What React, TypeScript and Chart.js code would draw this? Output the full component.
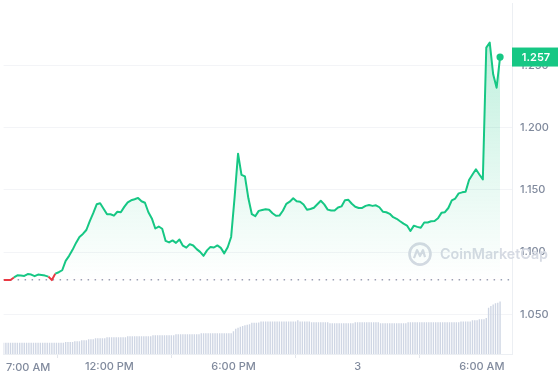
import React, { useEffect, useRef } from "react";
import { Chart, registerables } from "chart.js";

Chart.register(...registerables);

// ---- data -------------------------------------------------------------
const START_HOUR = 6.8833; // first sample, 6:53 AM (hours since midnight of day 2)
const PRICE_STEP_H = 1 / 6; // 10 minutes
const VOLUME_STEP_H = 1 / 9; // ~6.7 minutes
const X_MAX_HOUR = 31.46;
const BASE_PRICE = 1.0777;
const LAST_PRICE_LABEL = "1.257";

const priceValues = [
  1.0776, 1.0776, 1.0776, 1.0796, 1.0813, 1.0811, 1.0808, 1.0823, 1.0819, 1.0806,
  1.0819, 1.0815, 1.0811, 1.0803, 1.0775, 1.0827, 1.0838, 1.0854, 1.093, 1.097,
  1.1018, 1.1074, 1.1122, 1.1146, 1.1178, 1.125, 1.1313, 1.1385, 1.1393, 1.1349,
  1.1305, 1.1305, 1.1293, 1.1325, 1.1321, 1.1364, 1.1401, 1.1417, 1.1425, 1.1436,
  1.1409, 1.1397, 1.1321, 1.1271, 1.119, 1.1206, 1.1188, 1.109, 1.1078, 1.1094,
  1.1074, 1.1102, 1.1052, 1.1036, 1.1064, 1.1053, 1.1024, 1.1002, 1.097, 1.1014,
  1.1042, 1.1037, 1.1054, 1.1034, 1.099, 1.1039, 1.1122, 1.1441, 1.1792, 1.1621,
  1.1609, 1.1433, 1.1305, 1.1289, 1.1332, 1.1339, 1.1345, 1.1341, 1.1313, 1.1293,
  1.1294, 1.1333, 1.1388, 1.1406, 1.1433, 1.1409, 1.1405, 1.1383, 1.1341, 1.1347,
  1.1357, 1.1385, 1.1413, 1.1384, 1.1342, 1.1335, 1.1335, 1.1359, 1.1368, 1.1417,
  1.1421, 1.1389, 1.1365, 1.1355, 1.1356, 1.1372, 1.1379, 1.1372, 1.1377, 1.1361,
  1.1325, 1.1321, 1.1308, 1.1281, 1.1268, 1.1248, 1.1229, 1.1214, 1.117, 1.1213,
  1.1203, 1.1196, 1.1238, 1.1238, 1.1248, 1.125, 1.1272, 1.1316, 1.1321, 1.1355,
  1.1417, 1.1431, 1.1473, 1.1481, 1.1485, 1.1581, 1.1625, 1.1667, 1.1625, 1.1585,
  1.2646, 1.2686, 1.2431, 1.2323, 1.257,
];

// 24h volume (millions, arbitrary scale)
const volumeValues = [
  3.2, 3.2, 3.2, 3.2, 3.2, 3.2, 3.2, 3.2, 3.2, 3.2,
  3.2, 3.2, 3.2, 3.2, 3.2, 3.2, 3.2, 3.2, 3.2, 3.2,
  3.2, 3.2, 3.2, 3.2, 3.2, 3.2, 3.2, 3.4, 3.4, 3.4,
  3.4, 3.67, 3.67, 3.67, 3.95, 3.95, 3.95, 4.24, 4.24, 4.24,
  4.52, 4.52, 4.52, 4.52, 4.52, 4.8, 4.8, 4.8, 4.8, 4.8,
  4.8, 4.8, 4.8, 4.8, 5.09, 5.09, 5.09, 5.09, 5.09, 5.09,
  5.09, 5.09, 5.09, 5.09, 5.09, 5.37, 5.37, 5.37, 5.37, 5.37,
  5.37, 5.37, 5.37, 5.37, 5.37, 5.65, 5.65, 5.65, 5.65, 5.65,
  5.65, 5.65, 5.65, 5.65, 5.65, 5.65, 5.93, 5.93, 5.93, 5.93,
  5.93, 5.93, 5.93, 5.93, 5.93, 5.93, 5.93, 5.93, 5.93, 5.93,
  6.5, 7.2, 7.5, 7.8, 8.0, 8.2, 8.35, 8.5, 8.95, 8.95,
  8.95, 9.0, 9.3, 9.3, 9.3, 9.3, 9.3, 9.3, 9.3, 9.3,
  9.3, 9.3, 9.3, 9.3, 9.3, 9.3, 9.3, 9.3, 9.6, 9.3,
  9.3, 9.3, 9.3, 9.3, 9.04, 9.04, 9.04, 9.04, 9.04, 9.04,
  9.04, 9.04, 8.76, 8.76, 8.76, 8.76, 8.76, 8.76, 8.76, 8.76,
  8.76, 8.76, 8.76, 9.04, 9.04, 9.04, 9.04, 9.04, 9.04, 9.04,
  9.04, 9.04, 9.04, 9.04, 8.76, 8.76, 8.76, 8.76, 8.76, 8.76,
  8.76, 8.76, 8.76, 8.76, 8.76, 8.76, 9.04, 9.04, 9.04, 9.04,
  9.04, 9.04, 9.04, 9.04, 9.04, 9.04, 9.04, 9.04, 9.04, 9.04,
  9.04, 9.04, 9.04, 9.04, 9.04, 9.04, 9.04, 9.04, 9.04, 9.3,
  9.3, 9.3, 9.3, 9.3, 9.6, 9.6, 9.6, 9.9, 9.9, 9.9,
  10.3, 13.2, 13.7, 14.1, 14.5, 14.65, 15.0,
];
const VOLUME_AXIS_MAX = 100;

const xTickHours = [7, 12, 18, 24, 30];
const xTickLabels = ["7:00 AM", "12:00 PM", "6:00 PM", "3", "6:00 AM"];
const yTickValues = [1.05, 1.1, 1.15, 1.2, 1.25];
const Y_MIN = 1.018;
const Y_MAX = 1.3;

const GREEN = "#16c784";
const RED = "#ea3943";
const AXIS_TEXT = "#808a9d";
const FONT = "Inter, 'DejaVu Sans', sans-serif";

const overlayPlugin = {
  id: "overlay",
  beforeDatasetsDraw(chart: any) {
    const { ctx, chartArea, scales } = chart;
    ctx.save();
    // watermark
    const cy = scales.y.getPixelForValue(1.1);
    const cx = chartArea.right - 92;
    ctx.strokeStyle = "#d6dae3";
    ctx.lineWidth = 2.6;
    ctx.beginPath();
    ctx.arc(cx, cy + 2, 10.5, 0, Math.PI * 2);
    ctx.stroke();
    ctx.lineWidth = 2.2;
    ctx.lineJoin = "round";
    ctx.beginPath();
    ctx.moveTo(cx - 6, cy + 6);
    ctx.lineTo(cx - 3, cy - 2);
    ctx.lineTo(cx, cy + 4);
    ctx.lineTo(cx + 3, cy - 2);
    ctx.lineTo(cx + 5, cy + 5);
    ctx.stroke();
    const text = "CoinMarketCap";
    ctx.font = `600 20px ${FONT}`;
    const w = ctx.measureText(text).width;
    const size = (20 * 108) / w;
    ctx.font = `600 ${size.toFixed(2)}px ${FONT}`;
    ctx.fillStyle = "#d6dae3";
    ctx.textAlign = "left";
    ctx.textBaseline = "middle";
    ctx.fillText(text, cx + 20, cy + 3);
    // baseline (open price) dotted line
    const yb = scales.y.getPixelForValue(BASE_PRICE);
    ctx.setLineDash([1.5, 5.5]);
    ctx.strokeStyle = "#9aa2b6";
    ctx.lineWidth = 1.4;
    ctx.beginPath();
    ctx.moveTo(chartArea.left, yb);
    ctx.lineTo(chartArea.right, yb);
    ctx.stroke();
    ctx.restore();
  },
  afterDraw(chart: any) {
    const { ctx, chartArea, scales } = chart;
    ctx.save();
    const last = priceValues[priceValues.length - 1];
    const y = scales.y.getPixelForValue(last);
    ctx.fillStyle = GREEN;
    ctx.fillRect(chartArea.right, y - 9.5, chart.width - chartArea.right, 19);
    ctx.fillStyle = "#ffffff";
    ctx.font = `600 11px ${FONT}`;
    ctx.textAlign = "center";
    ctx.textBaseline = "middle";
    ctx.fillText(LAST_PRICE_LABEL, (chartArea.right + chart.width) / 2 + 1, y + 0.5);
    // first x label, aligned to start of its tick
    const xs = scales.x;
    const px = xs.getPixelForValue(xTickHours[0]);
    ctx.fillStyle = AXIS_TEXT;
    ctx.font = `500 11px ${FONT}`;
    ctx.textAlign = "left";
    ctx.textBaseline = "middle";
    ctx.fillText(xTickLabels[0], Math.max(px, 1), xs.top + 14);
    ctx.restore();
  },
};

export default function App() {
  const canvasRef = useRef<HTMLCanvasElement | null>(null);

  useEffect(() => {
    document.body.style.margin = "0";
    const canvas = canvasRef.current;
    if (!canvas) return;

    const lineData = priceValues.map((v, i) => ({ x: START_HOUR + i * PRICE_STEP_H, y: v }));
    const volData = volumeValues.map((v, i) => ({ x: START_HOUR + i * VOLUME_STEP_H, y: v }));
    const lastIdx = priceValues.length - 1;

    const chart = new Chart(canvas, {
      type: "line",
      data: {
        datasets: [
          {
            type: "line",
            data: lineData,
            yAxisID: "y",
            order: 0,
            borderColor: GREEN,
            borderWidth: 2,
            borderJoinStyle: "round",
            tension: 0,
            pointRadius: (c: any) => (c.dataIndex === lastIdx ? 3.6 : 0),
            pointHoverRadius: 0,
            pointBackgroundColor: GREEN,
            pointBorderWidth: 0,
            segment: {
              borderColor: (c: any) =>
                c.p0.parsed.y < BASE_PRICE || c.p1.parsed.y < BASE_PRICE ? RED : undefined,
            },
            backgroundColor: (c: any) => {
              const ch = c.chart;
              const { chartArea, scales } = ch;
              if (!chartArea || !scales.y) return "rgba(22,199,132,0.15)";
              const top = scales.y.getPixelForValue(1.27);
              const bot = scales.y.getPixelForValue(BASE_PRICE);
              const g = ch.ctx.createLinearGradient(0, top, 0, bot);
              g.addColorStop(0, "rgba(22,199,132,0.28)");
              g.addColorStop(0.6, "rgba(22,199,132,0.10)");
              g.addColorStop(1, "rgba(22,199,132,0.0)");
              return g;
            },
            fill: { target: { value: BASE_PRICE }, below: "rgba(234,57,67,0.08)" },
          } as any,
          {
            type: "bar",
            data: volData,
            yAxisID: "yv",
            order: 1,
            backgroundColor: "#cfd6e4",
            barPercentage: 0.6,
            categoryPercentage: 1,
          } as any,
        ],
      },
      options: {
        animation: false,
        responsive: false,
        maintainAspectRatio: false,
        events: [],
        layout: { padding: 0 },
        plugins: { legend: { display: false }, tooltip: { enabled: false } },
        scales: {
          x: {
            type: "linear",
            min: START_HOUR,
            max: X_MAX_HOUR,
            offset: false,
            afterBuildTicks: (s: any) => {
              s.ticks = xTickHours.map((v) => ({ value: v }));
            },
            afterFit: (s: any) => {
              s.height = 26;
              s.paddingLeft = 0;
              s.paddingRight = 0;
            },
            ticks: {
              autoSkip: false,
              maxRotation: 0,
              color: AXIS_TEXT,
              font: { family: FONT, size: 11, weight: "500" },
              padding: 2,
              callback: (_v: any, i: number) => (i === 0 ? "" : xTickLabels[i]),
            },
            grid: {
              drawOnChartArea: false,
              drawTicks: true,
              tickLength: 4,
              tickColor: "#e3e6ec",
            },
            border: { display: true, color: "#eceff3" },
          },
          y: {
            type: "linear",
            position: "right",
            min: Y_MIN,
            max: Y_MAX,
            afterBuildTicks: (s: any) => {
              s.ticks = yTickValues.map((v) => ({ value: v }));
            },
            afterFit: (s: any) => {
              s.width = 46;
              s.paddingTop = 0;
              s.paddingBottom = 0;
            },
            ticks: {
              color: AXIS_TEXT,
              font: { family: FONT, size: 11, weight: "500" },
              padding: 8,
              callback: (v: any) => Number(v).toFixed(3),
            },
            grid: { color: "#f3f4f7", drawTicks: false },
            border: { display: true, color: "#eceff3" },
          },
          yv: {
            type: "linear",
            display: false,
            min: 0,
            max: VOLUME_AXIS_MAX,
          },
        },
      } as any,
      plugins: [overlayPlugin],
    });

    return () => chart.destroy();
  }, []);

  return (
    <div style={{ width: 558, height: 380, position: "relative", background: "#fff" }}>
      <canvas ref={canvasRef} width={558} height={380} style={{ display: "block" }} />
    </div>
  );
}
